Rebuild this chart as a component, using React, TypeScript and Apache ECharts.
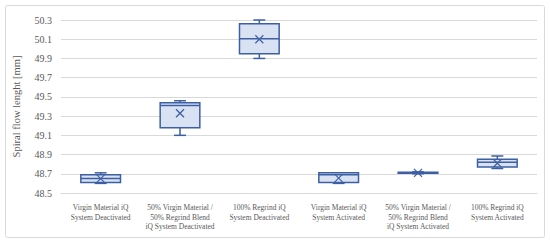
import React, { useEffect, useRef } from "react";
import * as echarts from "echarts";

const categories = [
  "Virgin Material iQ\nSystem Deactivated",
  "50% Virgin Material /\n50% Regrind Blend\niQ System Deactivated",
  "100% Regrind iQ\nSystem Deactivated",
  "Virgin Material iQ\nSystem Activated",
  "50% Virgin Material /\n50% Regrind Blend\niQ System Activated",
  "100% Regrind iQ\nSystem Activated",
];
const minVals = [48.6, 49.1, 49.9, 48.6, 48.7, 48.755];
const q1Vals = [48.61, 49.18, 49.95, 48.61, 48.705, 48.77];
const medianVals = [48.65, 49.41, 50.105, 48.69, 48.71, 48.82];
const q3Vals = [48.69, 49.44, 50.26, 48.71, 48.715, 48.85];
const maxVals = [48.71, 49.46, 50.3, 48.71, 48.72, 48.885];
const meanVals = [48.65, 49.33, 50.1, 48.655, 48.71, 48.81];
const yTickLabels = ["48.5", "48.7", "48.9", "49.1", "49.3", "49.5", "49.7", "49.9", "50.1", "50.3"];

const BASE = 48.5;
const STROKE = "#3d5fa3";
const FILL = "#d9e2f3";
const FONT = "Liberation Serif";

export default function App() {
  const ref = useRef<HTMLDivElement>(null);
  useEffect(() => {
    document.body.style.margin = "0";
    const chart = echarts.init(ref.current!, null, { renderer: "svg" });
    const data = categories.map((_, i) => [
      i,
      minVals[i] - BASE,
      q1Vals[i] - BASE,
      medianVals[i] - BASE,
      q3Vals[i] - BASE,
      maxVals[i] - BASE,
      meanVals[i] - BASE,
    ]);
    const yMax = parseFloat(yTickLabels[yTickLabels.length - 1]) - BASE;
    chart.setOption({
      animation: false,
      grid: { left: 61, right: 13, top: 20, bottom: 49 },
      graphic: [
        {
          type: "rect",
          shape: { x: 5.5, y: 5.5, width: 539, height: 232, r: 2 },
          style: { fill: "none", stroke: "#d9d9d9", lineWidth: 1 },
          silent: true,
        },
      ],
      xAxis: {
        type: "category",
        data: categories,
        axisTick: { show: false },
        axisLine: { lineStyle: { color: "#d9d9d9", width: 1 } },
        axisLabel: {
          interval: 0,
          fontFamily: FONT,
          fontSize: 7.5,
          lineHeight: 9.5,
          color: "#595959",
          margin: 10,
          align: "center",
        },
      },
      yAxis: {
        type: "value",
        min: 0,
        max: yMax,
        interval: 0.2,
        name: "Spiral flow lenght [mm]",
        nameLocation: "middle",
        nameRotate: 90,
        nameGap: 39,
        nameTextStyle: { fontFamily: FONT, fontSize: 10.5, color: "#595959" },
        axisLine: { show: false },
        axisTick: { show: false },
        splitLine: { lineStyle: { color: "#d9d9d9", width: 1 } },
        axisLabel: {
          fontFamily: FONT,
          fontSize: 10,
          color: "#595959",
          margin: 9,
          formatter: (v: number) => {
            const idx = Math.round(v / 0.2);
            return yTickLabels[idx] ?? (v + BASE).toFixed(1);
          },
        },
      },
      series: [
        {
          type: "custom",
          data,
          encode: { x: 0, y: [1, 2, 3, 4, 5, 6] },
          renderItem: (params: any, api: any) => {
            const x = api.value(0);
            const band = api.size([1, 0])[0];
            const bw = band * 0.5;
            const cw = band * 0.15;
            const pMin = api.coord([x, api.value(1)]);
            const pQ1 = api.coord([x, api.value(2)]);
            const pMed = api.coord([x, api.value(3)]);
            const pQ3 = api.coord([x, api.value(4)]);
            const pMax = api.coord([x, api.value(5)]);
            const pMean = api.coord([x, api.value(6)]);
            const cx = pMin[0];
            const ls = { stroke: STROKE, lineWidth: 1.5, fill: "none" };
            const s = 4;
            return {
              type: "group",
              children: [
                { type: "line", shape: { x1: cx, y1: pQ3[1], x2: cx, y2: pMax[1] }, style: ls },
                { type: "line", shape: { x1: cx, y1: pQ1[1], x2: cx, y2: pMin[1] }, style: ls },
                { type: "line", shape: { x1: cx - cw / 2, y1: pMax[1], x2: cx + cw / 2, y2: pMax[1] }, style: ls },
                { type: "line", shape: { x1: cx - cw / 2, y1: pMin[1], x2: cx + cw / 2, y2: pMin[1] }, style: ls },
                {
                  type: "rect",
                  shape: { x: cx - bw / 2, y: pQ3[1], width: bw, height: Math.max(pQ1[1] - pQ3[1], 0.5) },
                  style: { fill: FILL, stroke: STROKE, lineWidth: 1.5 },
                },
                { type: "line", shape: { x1: cx - bw / 2, y1: pMed[1], x2: cx + bw / 2, y2: pMed[1] }, style: ls },
                { type: "line", shape: { x1: pMean[0] - s, y1: pMean[1] - s, x2: pMean[0] + s, y2: pMean[1] + s }, style: { stroke: STROKE, lineWidth: 1.2 } },
                { type: "line", shape: { x1: pMean[0] - s, y1: pMean[1] + s, x2: pMean[0] + s, y2: pMean[1] - s }, style: { stroke: STROKE, lineWidth: 1.2 } },
              ],
            };
          },
        },
      ],
    });
    return () => chart.dispose();
  }, []);
  return <div ref={ref} style={{ width: 550, height: 242 }} />;
}
